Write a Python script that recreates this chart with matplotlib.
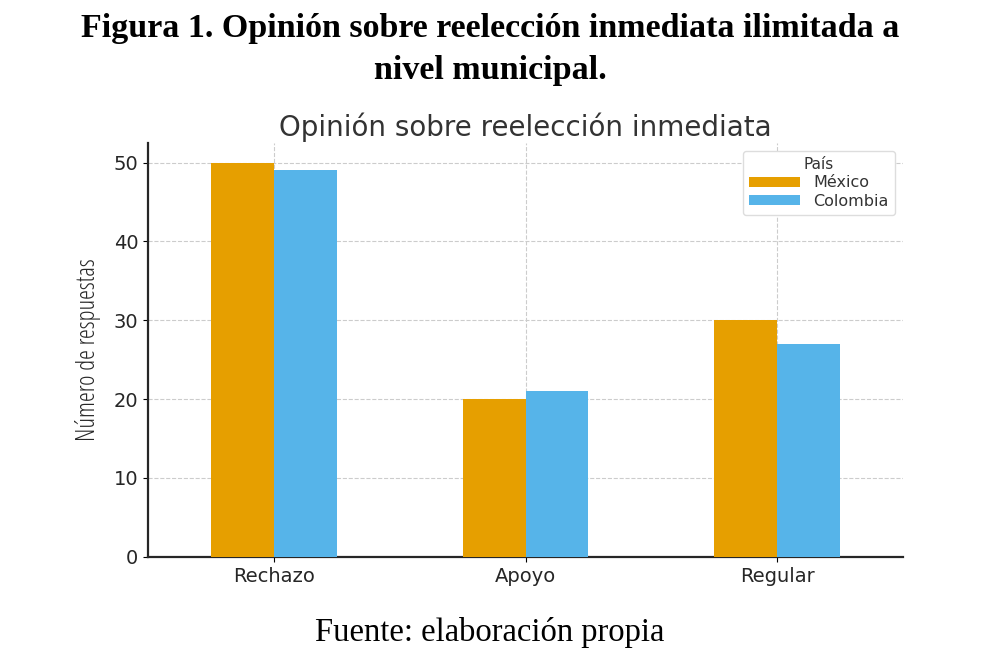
import numpy as np
import matplotlib
matplotlib.use("Agg")
import matplotlib.pyplot as plt

categorias = ["Rechazo", "Apoyo", "Regular"]
mexico = [50, 20, 30]
colombia = [49, 21, 27]
series = ["México", "Colombia"]

fig = plt.figure(figsize=(10, 6.52), dpi=100)

# titulo de la figura y fuente (serif)
fig.text(0.49, 0.957, "Figura 1. Opinión sobre reelección inmediata ilimitada a",
         ha="center", va="center", family="Liberation Serif", weight="bold", fontsize=24.5)
fig.text(0.49, 0.892, "nivel municipal.", ha="center", va="center",
         family="Liberation Serif", weight="bold", fontsize=24.5)
fig.text(0.49, 0.03, "Fuente: elaboración propia", ha="center", va="center",
         family="Liberation Serif", fontsize=23.5)

ax = fig.add_axes([0.148, 0.146, 0.755, 0.635])
x = np.arange(len(categorias))
w = 0.25
ax.bar(x - w / 2, mexico, w, color="#E69F00", label=series[0], zorder=3)
ax.bar(x + w / 2, colombia, w, color="#56B4E9", label=series[1], zorder=3)

ax.set_xlim(-0.5, 2.5)
ax.set_ylim(0, 52.5)
ax.set_xticks(x)
ax.set_xticklabels(categorias, fontsize=14, color="#262626")
ax.set_yticks([0, 10, 20, 30, 40, 50])
ax.tick_params(axis="y", labelsize=14, labelcolor="#262626")
ax.set_ylabel("Número de respuestas", family="Open Sans", fontsize=18,
              fontstretch="condensed", labelpad=9, color="#262626")
ax.set_title("Opinión sobre reelección inmediata", fontsize=20, color="#333333", pad=5)

ax.grid(True, linestyle="--", color="#cccccc", linewidth=0.8, zorder=0)
ax.spines["top"].set_visible(False)
ax.spines["right"].set_visible(False)
for s in ("left", "bottom"):
    ax.spines[s].set_linewidth(1.6)
    ax.spines[s].set_color("#262626")

leg = ax.legend(title="País", loc="upper right", fontsize=11.5, title_fontsize=11,
                handlelength=3.2, borderpad=0.4, labelspacing=0.2, handleheight=0.6,
                framealpha=1, edgecolor="#dddddd", labelcolor="#333333")
leg.get_title().set_color("#333333")

plt.savefig("out.png", dpi=100)
